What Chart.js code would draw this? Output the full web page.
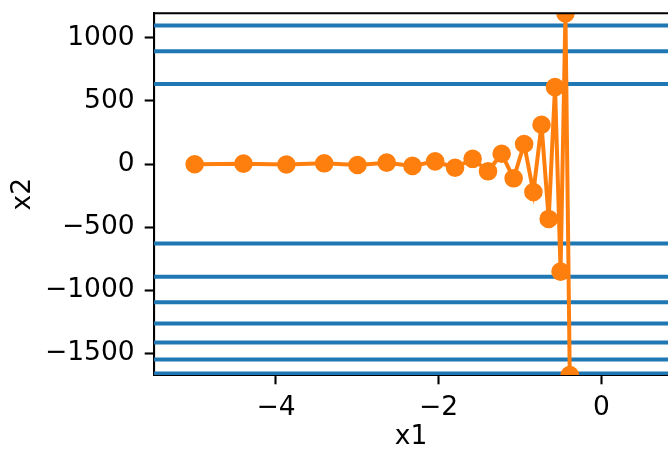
<!DOCTYPE html>
<html>
<head>
<meta charset="utf-8">
<style>
  html, body { margin: 0; padding: 0; background: #fff; }
  canvas { display: block; }
</style>
<script src="https://cdn.jsdelivr.net/npm/chart.js@4"></script>
</head>
<body>
<canvas id="c" width="668" height="450"></canvas>
<script>
// Trace of the iterates (x1, x2)
const x1Values = [-5.0, -4.4, -3.872, -3.407, -2.998, -2.639, -2.322, -2.043, -1.798, -1.582,
                  -1.393, -1.225, -1.078, -0.949, -0.835, -0.735, -0.647, -0.569, -0.501, -0.441, -0.388];
const x2Values = [-2.0, 2.8, -3.9, 5.5, -7.7, 10.8, -15.1, 21.1, -29.5, 41.3,
                  -57.9, 81.0, -113.4, 158.7, -222.2, 311.1, -435.6, 609.8, -853.7, 1195.2, -1673.3];
// Contour levels (horizontal lines)
const contourLevels = [1098, 895, 634, -631, -895, -1096, -1265, -1415, -1550, -1661];
const xTicks = [-4, -2, 0];
const yTicks = [-1500, -1000, -500, 0, 500, 1000];
const xRange = [-5.5, 0.82];
const yRange = [-1673.3, 1195.2];

const FONT = { family: "'DejaVu Sans'", size: 26.5 };
const fmt = v => (v < 0 ? '\u2212' + Math.abs(v) : String(v));

const datasets = [{
  label: 'trace',
  data: x1Values.map((x, i) => ({ x: x, y: x2Values[i] })),
  showLine: true,
  borderColor: '#ff7f0e',
  backgroundColor: '#ff7f0e',
  borderWidth: 4,
  pointRadius: 8,
  pointBorderWidth: 2.6,
  pointBackgroundColor: '#ff7f0e',
  pointBorderColor: '#ff7f0e',
  tension: 0,
  clip: 0,
  order: 0
}].concat(contourLevels.map((v, i) => ({
  label: 'contour ' + i,
  data: [{ x: -5.5, y: v }, { x: 1.0, y: v }],
  showLine: true,
  borderColor: '#1f77b4',
  borderWidth: 4,
  pointRadius: 0,
  clip: 0,
  order: 1
})));

const topSpine = {
  id: 'topSpine',
  afterDraw(chart) {
    const { ctx, chartArea } = chart;
    ctx.save();
    ctx.strokeStyle = '#000';
    ctx.lineWidth = 2.1;
    ctx.beginPath();
    ctx.moveTo(chartArea.left - 1, chartArea.top);
    ctx.lineTo(chartArea.right, chartArea.top);
    ctx.stroke();
    ctx.restore();
  }
};

Chart.defaults.color = '#000';
Chart.defaults.font.family = FONT.family;

new Chart(document.getElementById('c'), {
  type: 'scatter',
  data: { datasets },
  options: {
    responsive: false,
    animation: false,
    events: [],
    layout: { autoPadding: false, padding: { top: 13.3, right: 0, bottom: 0, left: 0 } },
    plugins: { legend: { display: false }, tooltip: { enabled: false } },
    scales: {
      x: {
        type: 'linear',
        min: xRange[0], max: xRange[1],
        afterBuildTicks: s => { s.ticks = xTicks.map(v => ({ value: v })); },
        afterFit: s => { s.height = 75; s.paddingLeft = 0; s.paddingRight = 0; },
        ticks: { font: FONT, padding: 8, callback: fmt, maxRotation: 0, autoSkip: false },
        grid: { drawOnChartArea: false, drawTicks: true, tickLength: 9.3, tickWidth: 2.1, tickColor: '#000', color: '#000' },
        border: { display: true, color: '#000', width: 2.1 },
        title: { display: true, text: 'x1', font: { family: FONT.family, size: 26.5, lineHeight: 1.0 }, padding: { top: 0, bottom: 0 } }
      },
      y: {
        type: 'linear',
        min: yRange[0], max: yRange[1],
        afterBuildTicks: s => { s.ticks = yTicks.map(v => ({ value: v })); },
        afterFit: s => { s.width = 154; s.paddingTop = 0; s.paddingBottom = 0; },
        ticks: { font: FONT, padding: 10, callback: fmt, autoSkip: false },
        grid: { drawOnChartArea: false, drawTicks: true, tickLength: 9.3, tickWidth: 2.1, tickColor: '#000', color: '#000' },
        border: { display: true, color: '#000', width: 2.1 },
        title: { display: true, text: 'x2', font: { family: FONT.family, size: 26.5, lineHeight: 1.0 }, padding: { top: 10, bottom: 0 } }
      }
    }
  },
  plugins: [topSpine]
});
</script>
</body>
</html>
